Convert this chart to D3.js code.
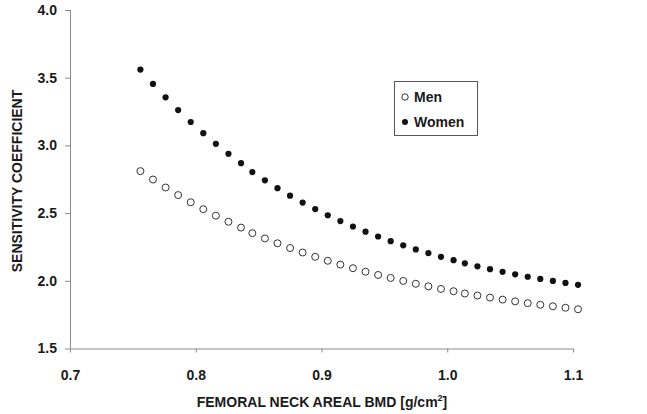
<!DOCTYPE html>
<html>
<head>
<meta charset="utf-8">
<script src="https://cdn.jsdelivr.net/npm/d3@7"></script>
<style>
  body { margin: 0; background: #fff; }
  svg { display: block; font-family: "Liberation Sans", Arial, sans-serif; }
</style>
</head>
<body>
<div id="chart"></div>
<script>
const width = 647;
const height = 414;

// bmd values of the points
const bmd = [0.756, 0.766, 0.776, 0.786, 0.796, 0.806, 0.816, 0.826, 0.836, 0.845,
             0.855, 0.865, 0.875, 0.885, 0.895, 0.905, 0.915, 0.925, 0.935, 0.945,
             0.955, 0.965, 0.975, 0.985, 0.995, 1.005, 1.014, 1.024, 1.034, 1.044,
             1.054, 1.064, 1.074, 1.084, 1.094, 1.104];

const women = [3.560, 3.454, 3.355, 3.261, 3.173, 3.090, 3.012, 2.938, 2.869, 2.803,
               2.742, 2.684, 2.629, 2.578, 2.530, 2.484, 2.441, 2.401, 2.363, 2.327,
               2.293, 2.262, 2.232, 2.204, 2.177, 2.152, 2.129, 2.107, 2.086, 2.066,
               2.048, 2.030, 2.014, 1.999, 1.984, 1.970];

const men = [2.810, 2.748, 2.689, 2.633, 2.580, 2.529, 2.481, 2.436, 2.393, 2.352,
             2.313, 2.277, 2.242, 2.209, 2.177, 2.148, 2.120, 2.093, 2.067, 2.043,
             2.021, 1.999, 1.978, 1.959, 1.940, 1.923, 1.906, 1.891, 1.876, 1.861,
             1.848, 1.835, 1.823, 1.812, 1.801, 1.790];

const xTicks = [0.7, 0.8, 0.9, 1.0, 1.1];
const yTicks = [1.5, 2.0, 2.5, 3.0, 3.5, 4.0];
const legendNames = ["Men", "Women"];

const svg = d3.select("#chart").append("svg")
  .attr("width", width)
  .attr("height", height);

const x = d3.scaleLinear().domain([0.7, 1.1]).range([70, 573]);
const y = d3.scaleLinear().domain([1.5, 4.0]).range([348.5, 10]);

const axisColor = "#8a8a8a";

// y axis
const yAxis = svg.append("g")
  .attr("transform", "translate(70,0)")
  .call(d3.axisLeft(y).tickValues(yTicks).tickFormat(d3.format(".1f")).tickSize(5).tickPadding(8));
yAxis.select(".domain").attr("stroke", axisColor).attr("d", "M0.5," + y(4.0) + "V" + y(1.5));
yAxis.selectAll(".tick line").attr("stroke", axisColor);
yAxis.selectAll(".tick text")
  .attr("fill", "#1a1a1a")
  .style("font-size", "14px")
  .style("font-weight", "bold");

// x axis
const xAxis = svg.append("g")
  .attr("transform", "translate(0," + y(1.5) + ")")
  .call(d3.axisBottom(x).tickValues(xTicks).tickFormat(d3.format(".1f")).tickSize(4).tickPadding(18));
xAxis.select(".domain").attr("stroke", axisColor).attr("d", "M" + x(0.7) + ",0.5H" + x(1.1));
xAxis.selectAll(".tick line").attr("stroke", axisColor);
xAxis.selectAll(".tick text")
  .attr("fill", "#1a1a1a")
  .style("font-size", "14px")
  .style("font-weight", "bold");

// axis titles
svg.append("text")
  .attr("x", 322)
  .attr("y", 407)
  .attr("text-anchor", "middle")
  .attr("fill", "#1a1a1a")
  .style("font-size", "14px")
  .style("font-weight", "bold")
  .html('FEMORAL NECK AREAL BMD [g/cm<tspan dy="-6" font-size="9px">2</tspan><tspan dy="6">]</tspan>');

svg.append("text")
  .attr("transform", "translate(22,181)rotate(-90)")
  .attr("text-anchor", "middle")
  .attr("fill", "#1a1a1a")
  .style("font-size", "14px")
  .style("font-weight", "bold")
  .text("SENSITIVITY COEFFICIENT");

// points
const pts = (vals) => bmd.map((b, i) => ({ b: b, v: vals[i] }));

svg.append("g").selectAll("circle")
  .data(pts(men))
  .enter().append("circle")
  .attr("cx", d => x(d.b))
  .attr("cy", d => y(d.v))
  .attr("r", 3.5)
  .attr("fill", "#fff")
  .attr("stroke", "#333")
  .attr("stroke-width", 1);

svg.append("g").selectAll("circle")
  .data(pts(women))
  .enter().append("circle")
  .attr("cx", d => x(d.b))
  .attr("cy", d => y(d.v))
  .attr("r", 3.1)
  .attr("fill", "#111");

// legend
const legend = svg.append("g").attr("transform", "translate(394,81)");
legend.append("rect")
  .attr("x", 0.5).attr("y", 0.5)
  .attr("width", 83).attr("height", 54)
  .attr("fill", "#fff")
  .attr("stroke", "#555");

legendNames.forEach((name, i) => {
  const cy = 16 + i * 25;
  const c = legend.append("circle").attr("cx", 11).attr("cy", cy);
  if (i === 0) {
    c.attr("r", 3.2).attr("fill", "#fff").attr("stroke", "#333");
  } else {
    c.attr("r", 3).attr("fill", "#111");
  }
  legend.append("text")
    .attr("x", 20)
    .attr("y", cy + 5)
    .attr("fill", "#1a1a1a")
    .style("font-size", "14px")
    .style("font-weight", "bold")
    .text(name);
});
</script>
</body>
</html>
